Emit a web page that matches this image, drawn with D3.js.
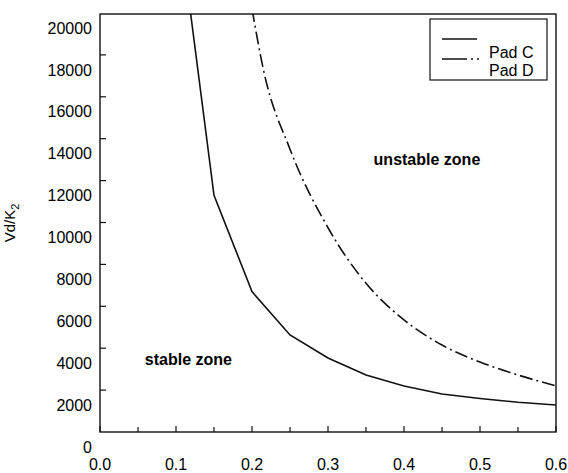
<!DOCTYPE html>
<html>
<head>
<meta charset="utf-8">
<script src="https://cdn.jsdelivr.net/npm/d3@7"></script>
<style>
  body { margin: 0; background: #fff; }
  svg { display: block; font-family: "Liberation Sans", Arial, sans-serif; }
</style>
</head>
<body>
<div id="chart"></div>
<script>
'use strict';
// values
var padCx = [0.10, 0.15, 0.20, 0.25, 0.30, 0.35, 0.40, 0.45, 0.50, 0.55, 0.60];
var padCy = [25400, 11300, 6700, 4630, 3530, 2720, 2200, 1810, 1600, 1420, 1290];
var padDx = [0.20, 0.215, 0.25, 0.30, 0.35, 0.40, 0.45, 0.50, 0.55, 0.60];
var padDy = [20200, 17300, 13500, 9750, 7100, 5350, 4150, 3340, 2720, 2200];
var xTicks = [0, 0.1, 0.2, 0.3, 0.4, 0.5, 0.6];
var xMinor = [0.05, 0.15, 0.25, 0.35, 0.45, 0.55];
var yTicks = [0, 2000, 4000, 6000, 8000, 10000, 12000, 14000, 16000, 18000, 20000];
var seriesNames = ['Pad C', 'Pad D'];

var width = 568, height = 473;
var x = d3.scaleLinear().domain([0, 0.6]).range([100, 556]);
var y = d3.scaleLinear().domain([0, 20000]).range([432, 13]);

var svg = d3.select('#chart').append('svg')
    .attr('width', width)
    .attr('height', height);

svg.append('defs').append('clipPath').attr('id', 'plot')
  .append('rect')
    .attr('x', 100).attr('y', 14)
    .attr('width', 456).attr('height', 418);

// frame
svg.append('rect')
    .attr('x', 100).attr('y', 14)
    .attr('width', 456).attr('height', 418)
    .attr('fill', 'none')
    .attr('stroke', '#111')
    .attr('stroke-width', 1.4);

// x axis, ticks pointing inward
var xAxis = svg.append('g').attr('transform', 'translate(0,432)');
xAxis.selectAll('line.major').data(xTicks).enter().append('line')
    .attr('x1', d => x(d)).attr('x2', d => x(d))
    .attr('y1', 0).attr('y2', -6)
    .attr('stroke', '#111').attr('stroke-width', 1.2);
xAxis.selectAll('line.minor').data(xMinor).enter().append('line')
    .attr('x1', d => x(d)).attr('x2', d => x(d))
    .attr('y1', 0).attr('y2', -5)
    .attr('stroke', '#111').attr('stroke-width', 1.2);
xAxis.selectAll('text').data(xTicks).enter().append('text')
    .attr('x', d => x(d))
    .attr('y', 38)
    .attr('text-anchor', 'middle')
    .attr('font-size', 16)
    .text(d3.format('.1f'));

// y axis; the labels in the scan sit ~15px below their ticks
var yAxis = svg.append('g').attr('transform', 'translate(100,0)');
yAxis.selectAll('line').data(yTicks.slice(1, -1)).enter().append('line')
    .attr('x1', 0).attr('x2', 6)
    .attr('y1', d => y(d)).attr('y2', d => y(d))
    .attr('stroke', '#111').attr('stroke-width', 1.2);
yAxis.selectAll('text').data(yTicks).enter().append('text')
    .attr('x', -8)
    .attr('y', d => y(d) + 15)
    .attr('dy', '0.35em')
    .attr('text-anchor', 'end')
    .attr('font-size', 16)
    .text(d => d);

svg.append('text')
    .attr('transform', 'translate(15,223) rotate(-90)')
    .attr('text-anchor', 'middle')
    .attr('font-size', 15)
    .text('Vd/K')
  .append('tspan')
    .attr('font-size', 11)
    .attr('dy', 4)
    .text('2');

// curves
var line = d3.line()
    .x(d => x(d[0]))
    .y(d => y(d[1]));

var plot = svg.append('g').attr('clip-path', 'url(#plot)');
plot.append('path')
    .datum(d3.zip(padCx, padCy))
    .attr('d', line)
    .attr('fill', 'none')
    .attr('stroke', '#111')
    .attr('stroke-width', 1.6);
plot.append('path')
    .datum(d3.zip(padDx, padDy))
    .attr('d', line.curve(d3.curveMonotoneX))
    .attr('fill', 'none')
    .attr('stroke', '#111')
    .attr('stroke-width', 1.6)
    .attr('stroke-dasharray', '13,4,2,4');

// zone labels
svg.append('text')
    .attr('x', x(0.059)).attr('y', y(3200))
    .attr('font-size', 16).attr('font-weight', 'bold')
    .text('stable zone');
svg.append('text')
    .attr('x', x(0.36)).attr('y', y(12760))
    .attr('font-size', 16).attr('font-weight', 'bold')
    .text('unstable zone');

// legend
var legend = svg.append('g');
legend.append('rect')
    .attr('x', 430).attr('y', 19)
    .attr('width', 117).attr('height', 61)
    .attr('fill', '#fff')
    .attr('stroke', '#111')
    .attr('stroke-width', 1.2);
legend.append('line')
    .attr('x1', 442).attr('x2', 477)
    .attr('y1', 39).attr('y2', 39)
    .attr('stroke', '#111').attr('stroke-width', 1.6);
legend.append('line')
    .attr('x1', 442).attr('x2', 480)
    .attr('y1', 59).attr('y2', 59)
    .attr('stroke', '#111').attr('stroke-width', 1.6)
    .attr('stroke-dasharray', '25,4,2,4,2,20');
legend.selectAll('text.name').data(seriesNames).enter().append('text')
    .attr('x', 489)
    .attr('y', (d, i) => 52 + i * 18)
    .attr('dy', '0.35em')
    .attr('font-size', 16)
    .text(d => d);
</script>
</body>
</html>
